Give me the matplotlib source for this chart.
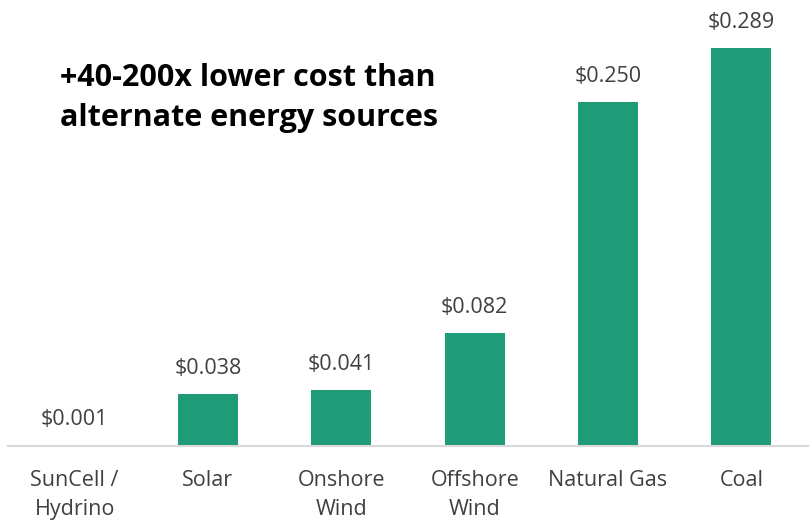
import matplotlib
matplotlib.use("Agg")
import matplotlib.pyplot as plt

categories = ["SunCell /\nHydrino", "Solar", "Onshore\nWind", "Offshore\nWind", "Natural Gas", "Coal"]
values = [0.001, 0.038, 0.041, 0.082, 0.250, 0.289]
value_labels = ["$0.001", "$0.038", "$0.041", "$0.082", "$0.250", "$0.289"]
title = "+40-200x lower cost than\nalternate energy sources"

plt.rcParams['font.family'] = ['Open Sans', 'DejaVu Sans']

fig = plt.figure(figsize=(8.12, 5.21), dpi=100)
ax = fig.add_axes([8/812, 0.144, 800/812, 0.8457])
color = "#1f9b78"
x = range(len(categories))
bars = ax.bar(x, values, width=0.45, color=color)
ax.set_xlim(-0.5, len(categories) - 0.5)
ax.set_ylim(0, 0.32)

for xi, v, lab in zip(x, values, value_labels):
    ax.annotate(lab, (xi, v), xytext=(0, 10.5), textcoords="offset points",
                ha="center", va="bottom", fontsize=15.5, color="#404040")

ax.set_xticks(list(x))
ax.set_xticklabels(categories, fontsize=15.5, color="#404040", linespacing=1.55, va="top")
ax.tick_params(axis="x", length=0, pad=17)
ax.set_yticks([])
for s in ["top", "right", "left"]:
    ax.spines[s].set_visible(False)
ax.spines["bottom"].set_color("#d9d9d9")
ax.spines["bottom"].set_linewidth(1.5)

fig.text(60/812, 1 - 63/521, title, fontsize=22, fontweight="bold", color="black",
         ha="left", va="top", linespacing=1.44)

fig.savefig("out.png", dpi=100)
